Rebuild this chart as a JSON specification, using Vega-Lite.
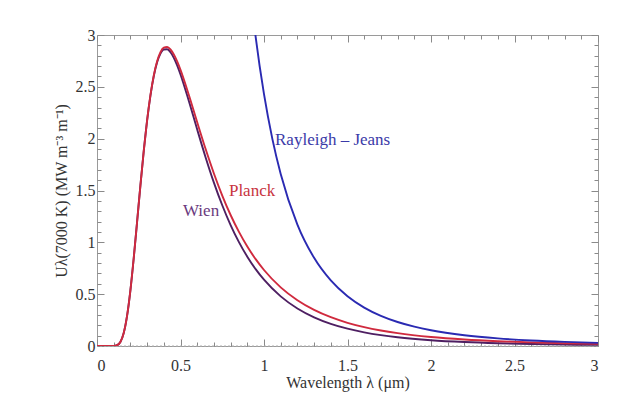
{
  "$schema": "https://vega.github.io/schema/vega-lite/v6.json",
  "width": 501,
  "height": 311,
  "autosize": {"type": "none"},
  "padding": {"left": 97, "top": 35, "right": 27, "bottom": 51},
  "background": "white",
  "config": {
    "view": {"stroke": "#9a9a9a", "strokeWidth": 1},
    "font": "Liberation Serif"
  },
  "datasets": {
    "curves": [
      {"lambda": 0, "law": "Wien", "U": 0}, {"lambda": 0, "law": "Planck", "U": 0},
      {"lambda": 0.05, "law": "Wien", "U": 0}, {"lambda": 0.05, "law": "Planck", "U": 0},
      {"lambda": 0.10, "law": "Wien", "U": 0.0006}, {"lambda": 0.10, "law": "Planck", "U": 0.0006},
      {"lambda": 0.12, "law": "Wien", "U": 0.0073}, {"lambda": 0.12, "law": "Planck", "U": 0.0073},
      {"lambda": 0.14, "law": "Wien", "U": 0.0391}, {"lambda": 0.14, "law": "Planck", "U": 0.0391},
      {"lambda": 0.16, "law": "Wien", "U": 0.1255}, {"lambda": 0.16, "law": "Planck", "U": 0.1255},
      {"lambda": 0.18, "law": "Wien", "U": 0.2902}, {"lambda": 0.18, "law": "Planck", "U": 0.2902},
      {"lambda": 0.20, "law": "Wien", "U": 0.5370}, {"lambda": 0.20, "law": "Planck", "U": 0.5370},
      {"lambda": 0.22, "law": "Wien", "U": 0.8486}, {"lambda": 0.22, "law": "Planck", "U": 0.8487},
      {"lambda": 0.24, "law": "Wien", "U": 1.1962}, {"lambda": 0.24, "law": "Planck", "U": 1.1964},
      {"lambda": 0.26, "law": "Wien", "U": 1.5496}, {"lambda": 0.26, "law": "Planck", "U": 1.5502},
      {"lambda": 0.28, "law": "Wien", "U": 1.8816}, {"lambda": 0.28, "law": "Planck", "U": 1.8828},
      {"lambda": 0.30, "law": "Wien", "U": 2.1741}, {"lambda": 0.30, "law": "Planck", "U": 2.1764},
      {"lambda": 0.32, "law": "Wien", "U": 2.4157}, {"lambda": 0.32, "law": "Planck", "U": 2.4196},
      {"lambda": 0.34, "law": "Wien", "U": 2.6031}, {"lambda": 0.34, "law": "Planck", "U": 2.6093},
      {"lambda": 0.36, "law": "Wien", "U": 2.7366}, {"lambda": 0.36, "law": "Planck", "U": 2.7457},
      {"lambda": 0.38, "law": "Wien", "U": 2.8207}, {"lambda": 0.38, "law": "Planck", "U": 2.8334},
      {"lambda": 0.40, "law": "Wien", "U": 2.8603}, {"lambda": 0.40, "law": "Planck", "U": 2.8772},
      {"lambda": 0.42, "law": "Wien", "U": 2.8624}, {"lambda": 0.42, "law": "Planck", "U": 2.8840},
      {"lambda": 0.44, "law": "Wien", "U": 2.8334}, {"lambda": 0.44, "law": "Planck", "U": 2.8602},
      {"lambda": 0.46, "law": "Wien", "U": 2.7799}, {"lambda": 0.46, "law": "Planck", "U": 2.8122},
      {"lambda": 0.48, "law": "Wien", "U": 2.7067}, {"lambda": 0.48, "law": "Planck", "U": 2.7446},
      {"lambda": 0.50, "law": "Wien", "U": 2.6193}, {"lambda": 0.50, "law": "Planck", "U": 2.6630},
      {"lambda": 0.55, "law": "Wien", "U": 2.3632}, {"lambda": 0.55, "law": "Planck", "U": 2.4209},
      {"lambda": 0.60, "law": "Wien", "U": 2.0883}, {"lambda": 0.60, "law": "Planck", "U": 2.1585},
      {"lambda": 0.65, "law": "Wien", "U": 1.8216}, {"lambda": 0.65, "law": "Planck", "U": 1.9021},
      {"lambda": 0.70, "law": "Wien", "U": 1.5762}, {"lambda": 0.70, "law": "Planck", "U": 1.6645},
      {"lambda": 0.75, "law": "Wien", "U": 1.3578}, {"lambda": 0.75, "law": "Planck", "U": 1.4515},
      {"lambda": 0.80, "law": "Wien", "U": 1.1669}, {"lambda": 0.80, "law": "Planck", "U": 1.2637},
      {"lambda": 0.85, "law": "Wien", "U": 1.0025}, {"lambda": 0.85, "law": "Planck", "U": 1.1005},
      {"lambda": 0.90, "law": "Wien", "U": 0.8615}, {"lambda": 0.90, "law": "Planck", "U": 0.9593},
      {"lambda": 0.95, "law": "Wien", "U": 0.7414}, {"lambda": 0.95, "law": "Planck", "U": 0.8377},
      {"lambda": 1.00, "law": "Wien", "U": 0.6392}, {"lambda": 1.00, "law": "Planck", "U": 0.7331},
      {"lambda": 1.10, "law": "Wien", "U": 0.4785}, {"lambda": 1.10, "law": "Planck", "U": 0.5658},
      {"lambda": 1.20, "law": "Wien", "U": 0.3619}, {"lambda": 1.20, "law": "Planck", "U": 0.4415},
      {"lambda": 1.30, "law": "Wien", "U": 0.2767}, {"lambda": 1.30, "law": "Planck", "U": 0.3483},
      {"lambda": 1.40, "law": "Wien", "U": 0.2138}, {"lambda": 1.40, "law": "Planck", "U": 0.2778},
      {"lambda": 1.50, "law": "Wien", "U": 0.1670}, {"lambda": 1.50, "law": "Planck", "U": 0.2239},
      {"lambda": 1.60, "law": "Wien", "U": 0.1318}, {"lambda": 1.60, "law": "Planck", "U": 0.1822},
      {"lambda": 1.70, "law": "Wien", "U": 0.1049}, {"lambda": 1.70, "law": "Planck", "U": 0.1496},
      {"lambda": 1.80, "law": "Wien", "U": 0.0843}, {"lambda": 1.80, "law": "Planck", "U": 0.1239},
      {"lambda": 2.00, "law": "Wien", "U": 0.0558}, {"lambda": 2.00, "law": "Planck", "U": 0.0869},
      {"lambda": 2.20, "law": "Wien", "U": 0.0381}, {"lambda": 2.20, "law": "Planck", "U": 0.0627},
      {"lambda": 2.40, "law": "Wien", "U": 0.0266}, {"lambda": 2.40, "law": "Planck", "U": 0.0463},
      {"lambda": 2.60, "law": "Wien", "U": 0.0191}, {"lambda": 2.60, "law": "Planck", "U": 0.0349},
      {"lambda": 2.80, "law": "Wien", "U": 0.0139}, {"lambda": 2.80, "law": "Planck", "U": 0.0268},
      {"lambda": 3.00, "law": "Wien", "U": 0.0104}, {"lambda": 3.00, "law": "Planck", "U": 0.0209},
      {"lambda": 0.90, "law": "Rayleigh-Jeans", "U": 3.702},
      {"lambda": 0.925, "law": "Rayleigh-Jeans", "U": 3.318},
      {"lambda": 0.95, "law": "Rayleigh-Jeans", "U": 2.982},
      {"lambda": 1.00, "law": "Rayleigh-Jeans", "U": 2.429},
      {"lambda": 1.05, "law": "Rayleigh-Jeans", "U": 1.998},
      {"lambda": 1.10, "law": "Rayleigh-Jeans", "U": 1.659},
      {"lambda": 1.20, "law": "Rayleigh-Jeans", "U": 1.1714},
      {"lambda": 1.30, "law": "Rayleigh-Jeans", "U": 0.8505},
      {"lambda": 1.40, "law": "Rayleigh-Jeans", "U": 0.6323},
      {"lambda": 1.50, "law": "Rayleigh-Jeans", "U": 0.4798},
      {"lambda": 1.60, "law": "Rayleigh-Jeans", "U": 0.3706},
      {"lambda": 1.70, "law": "Rayleigh-Jeans", "U": 0.2908},
      {"lambda": 1.80, "law": "Rayleigh-Jeans", "U": 0.2314},
      {"lambda": 1.90, "law": "Rayleigh-Jeans", "U": 0.1864},
      {"lambda": 2.00, "law": "Rayleigh-Jeans", "U": 0.1518},
      {"lambda": 2.20, "law": "Rayleigh-Jeans", "U": 0.1037},
      {"lambda": 2.40, "law": "Rayleigh-Jeans", "U": 0.0732},
      {"lambda": 2.60, "law": "Rayleigh-Jeans", "U": 0.0532},
      {"lambda": 2.80, "law": "Rayleigh-Jeans", "U": 0.0395},
      {"lambda": 3.00, "law": "Rayleigh-Jeans", "U": 0.0300}
    ],
    "labels": [
      {"law": "Rayleigh-Jeans", "text": "Rayleigh – Jeans", "lambda": 1.066, "U": 1.99},
      {"law": "Planck", "text": "Planck", "lambda": 0.79, "U": 1.50},
      {"law": "Wien", "text": "Wien", "lambda": 0.515, "U": 1.30}
    ]
  },
  "layer": [
    {
      "data": {"values": [{"y": 0}]},
      "mark": {"type": "rule", "color": "#b0b0b0", "strokeDash": [2, 2], "strokeWidth": 1},
      "encoding": {"y": {"field": "y", "type": "quantitative", "scale": {"domain": [0, 3], "nice": false}, "axis": null}}
    },
    {
      "data": {"name": "curves"},
      "mark": {"type": "line", "interpolate": "monotone", "clip": true, "strokeWidth": 1.9},
      "encoding": {
        "x": {
          "field": "lambda", "type": "quantitative",
          "scale": {"domain": [0, 3], "nice": false, "zero": false},
          "axis": {
            "orient": "bottom",
            "values": [0, 0.1, 0.2, 0.3, 0.4, 0.5, 0.6, 0.7, 0.8, 0.9, 1, 1.1, 1.2, 1.3, 1.4, 1.5, 1.6, 1.7, 1.8, 1.9, 2, 2.1, 2.2, 2.3, 2.4, 2.5, 2.6, 2.7, 2.8, 2.9, 3],
            "format": ".1~f",
            "labelExpr": "abs(datum.value*2 - round(datum.value*2)) < 0.01 ? datum.label : ''",
            "tickSize": {"condition": {"test": "abs(datum.value*2 - round(datum.value*2)) < 0.01", "value": -7}, "value": -4},
            "tickColor": "#8a8a8a",
            "domain": false,
            "grid": false,
            "labelFont": "Liberation Serif",
            "labelFontSize": 16,
            "labelColor": "#333333",
            "labelPadding": 18,
            "labelOverlap": false,
            "title": "Wavelength λ (μm)",
            "titleFont": "Liberation Serif",
            "titleFontSize": 16,
            "titleFontWeight": "normal",
            "titleColor": "#333333",
            "titlePadding": -2
          }
        },
        "y": {
          "field": "U", "type": "quantitative",
          "scale": {"domain": [0, 3], "nice": false},
          "axis": {
            "orient": "left",
            "values": [0, 0.1, 0.2, 0.3, 0.4, 0.5, 0.6, 0.7, 0.8, 0.9, 1, 1.1, 1.2, 1.3, 1.4, 1.5, 1.6, 1.7, 1.8, 1.9, 2, 2.1, 2.2, 2.3, 2.4, 2.5, 2.6, 2.7, 2.8, 2.9, 3],
            "format": ".1~f",
            "labelExpr": "abs(datum.value*2 - round(datum.value*2)) < 0.01 ? datum.label : ''",
            "tickSize": {"condition": {"test": "abs(datum.value*2 - round(datum.value*2)) < 0.01", "value": -7}, "value": -4},
            "tickColor": "#8a8a8a",
            "domain": false,
            "grid": false,
            "labelFont": "Liberation Serif",
            "labelFontSize": 16,
            "labelColor": "#333333",
            "labelPadding": 9,
            "labelOverlap": false,
            "title": "Uλ(7000 K) (MW m⁻³ m⁻¹)",
            "titleFont": "Liberation Serif",
            "titleFontSize": 16,
            "titleFontWeight": "normal",
            "titleColor": "#333333",
            "titlePadding": 6
          }
        },
        "color": {
          "field": "law", "type": "nominal",
          "scale": {"domain": ["Rayleigh-Jeans", "Wien", "Planck"], "range": ["#2a2ab2", "#4e1f62", "#d02a3e"]},
          "legend": null
        },
        "order": {"field": "law", "sort": "descending"}
      }
    },
    {
      "data": {"name": "labels"},
      "mark": {"type": "text", "align": "left", "baseline": "middle", "font": "Liberation Serif", "fontSize": 17},
      "encoding": {
        "x": {
          "field": "lambda", "type": "quantitative",
          "axis": {
            "orient": "top",
            "values": [0, 0.1, 0.2, 0.3, 0.4, 0.5, 0.6, 0.7, 0.8, 0.9, 1, 1.1, 1.2, 1.3, 1.4, 1.5, 1.6, 1.7, 1.8, 1.9, 2, 2.1, 2.2, 2.3, 2.4, 2.5, 2.6, 2.7, 2.8, 2.9, 3],
            "labels": false,
            "tickSize": {"condition": {"test": "abs(datum.value*2 - round(datum.value*2)) < 0.01", "value": -7}, "value": -4},
            "tickColor": "#8a8a8a",
            "domain": false,
            "grid": false,
            "title": null
          }
        },
        "y": {
          "field": "U", "type": "quantitative",
          "axis": {
            "orient": "right",
            "values": [0, 0.1, 0.2, 0.3, 0.4, 0.5, 0.6, 0.7, 0.8, 0.9, 1, 1.1, 1.2, 1.3, 1.4, 1.5, 1.6, 1.7, 1.8, 1.9, 2, 2.1, 2.2, 2.3, 2.4, 2.5, 2.6, 2.7, 2.8, 2.9, 3],
            "labels": false,
            "tickSize": {"condition": {"test": "abs(datum.value*2 - round(datum.value*2)) < 0.01", "value": -7}, "value": -4},
            "tickColor": "#8a8a8a",
            "domain": false,
            "grid": false,
            "title": null
          }
        },
        "text": {"field": "text"},
        "color": {
          "field": "law", "type": "nominal",
          "scale": {"domain": ["Rayleigh-Jeans", "Wien", "Planck"], "range": ["#3a3aa8", "#6a3a7e", "#c8343f"]},
          "legend": null
        }
      }
    }
  ],
  "resolve": {"axis": {"x": "independent", "y": "independent"}, "scale": {"color": "independent"}}
}
